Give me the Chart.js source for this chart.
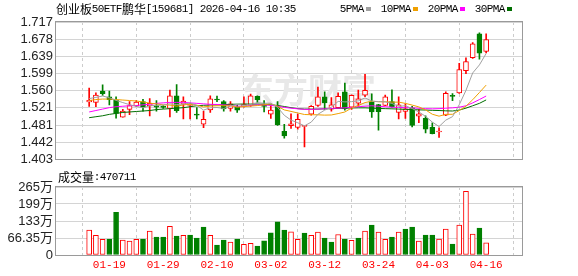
<!DOCTYPE html>
<html lang="zh">
<head>
<meta charset="UTF-8">
<title>创业板50ETF鹏华 K线</title>
<script src="https://cdn.jsdelivr.net/npm/chart.js"></script>
<style>
  body { margin: 0; background: #fff; }
  #wrap { position: relative; width: 578px; height: 276px; }
  .box { position: absolute; left: 0; width: 578px; }
</style>
</head>
<body>
<div id="wrap">
  <div class="box" style="top:0;height:170px"><canvas id="kChart"></canvas></div>
  <div class="box" style="top:170px;height:106px"><canvas id="volChart"></canvas></div>
</div>
<script>
// 交易日
const dates = ['01-14','01-15','01-16','01-19','01-20','01-21','01-22','01-23','01-26','01-27',
  '01-28','01-29','01-30','02-02','02-03','02-04','02-05','02-06','02-09','02-10',
  '02-11','02-12','02-13','02-24','02-25','02-26','02-27','03-02','03-03','03-04',
  '03-05','03-06','03-09','03-10','03-11','03-12','03-13','03-16','03-17','03-18',
  '03-19','03-20','03-23','03-24','03-25','03-26','03-27','03-30','03-31','04-01',
  '04-02','04-03','04-07','04-08','04-09','04-10','04-13','04-14','04-15','04-16'];
const tickIdx = [3, 11, 19, 27, 35, 43, 51, 59];

const open = [1.534,1.533,1.559,1.546,1.538,1.499,1.517,1.525,1.535,1.525,
  1.526,1.5235,1.519,1.548,1.529,1.526,1.506,1.483,1.5155,1.5395,
  1.535,1.519,1.523,1.524,1.526,1.547,1.530,1.506,1.524,1.467,
  1.4795,1.476,1.478,1.506,1.526,1.546,1.5177,1.521,1.557,1.522,
  1.531,1.5497,1.533,1.528,1.526,1.535,1.510,1.5126,1.5205,1.5013,
  1.4965,1.4762,1.4653,1.5035,1.5482,1.5548,1.6057,1.6356,1.6897,1.6497];
const high = [1.566,1.555,1.573,1.559,1.546,1.517,1.535,1.537,1.540,1.542,
  1.537,1.526,1.561,1.574,1.546,1.531,1.521,1.513,1.548,1.5476,
  1.537,1.535,1.528,1.546,1.552,1.548,1.537,1.525,1.535,1.483,
  1.507,1.506,1.4805,1.526,1.568,1.557,1.544,1.555,1.577,1.5504,
  1.561,1.597,1.5526,1.5286,1.5497,1.562,1.546,1.5297,1.5242,1.5166,
  1.5024,1.486,1.4746,1.557,1.5534,1.6225,1.6349,1.6698,1.6923,1.6901];
const low = [1.524,1.523,1.549,1.527,1.497,1.499,1.505,1.523,1.513,1.502,
  1.513,1.519,1.500,1.510,1.495,1.495,1.495,1.475,1.510,1.5345,
  1.513,1.513,1.510,1.522,1.524,1.533,1.511,1.4965,1.4805,1.451,
  1.4734,1.472,1.431,1.5035,1.524,1.517,1.513,1.520,1.515,1.517,
  1.524,1.546,1.4986,1.4696,1.5257,1.522,1.495,1.4965,1.4768,1.4864,
  1.463,1.461,1.4528,1.5024,1.5367,1.5537,1.5986,1.6334,1.6318,1.6465];
const close = [1.538,1.550,1.553,1.539,1.508,1.513,1.526,1.534,1.522,1.531,
  1.522,1.5215,1.548,1.514,1.536,1.529,1.504,1.494,1.541,1.5385,
  1.518,1.530,1.515,1.529,1.548,1.5395,1.524,1.5155,1.482,1.4565,
  1.484,1.494,1.4805,1.524,1.546,1.532,1.5275,1.547,1.518,1.549,
  1.541,1.5607,1.511,1.512,1.546,1.523,1.5275,1.5183,1.4805,1.5068,
  1.4718,1.4616,1.4674,1.5537,1.5467,1.6083,1.6262,1.6672,1.6458,1.677];

const ma5 = [1.5417,1.5445,1.5476,1.5438,1.5376,1.5326,1.5278,1.524,1.5206,1.5252,
  1.5262,1.527,1.5298,1.5282,1.5292,1.5314,1.5262,1.5154,1.5208,1.5213,
  1.5191,1.5243,1.5285,1.5261,1.528,1.5323,1.5311,1.5312,1.5218,1.5035,
  1.4924,1.4864,1.4794,1.4878,1.5057,1.5153,1.522,1.5353,1.5341,1.5347,
  1.5365,1.5432,1.536,1.5348,1.5342,1.5306,1.5239,1.5253,1.519,1.5112,
  1.501,1.4879,1.4777,1.4924,1.5004,1.5276,1.5605,1.6004,1.6188,1.6449];
const ma10 = [1.5373,1.5395,1.5406,1.5406,1.5395,1.5384,1.5373,1.5362,1.534,1.5314,
  1.5294,1.5274,1.5269,1.5244,1.5272,1.5288,1.5266,1.5226,1.5245,1.5253,
  1.5253,1.5253,1.522,1.5235,1.5247,1.5257,1.5277,1.5299,1.524,1.5158,
  1.5124,1.5088,1.5053,1.5048,1.5046,1.5039,1.5042,1.5074,1.511,1.5202,
  1.5259,1.5326,1.5357,1.5345,1.5345,1.5336,1.5336,1.5307,1.5269,1.5227,
  1.5158,1.5059,1.5015,1.5057,1.5058,1.5143,1.5242,1.5391,1.5556,1.5726];
const ma20 = [1.5111,1.5144,1.5177,1.521,1.5231,1.5242,1.5253,1.5257,1.5275,1.5286,
  1.5308,1.5319,1.533,1.533,1.533,1.5319,1.5308,1.5297,1.5286,1.5283,
  1.5273,1.5263,1.5244,1.5239,1.5259,1.5273,1.5272,1.5262,1.5242,1.5216,
  1.5198,1.5183,1.517,1.517,1.5177,1.5183,1.5192,1.5198,1.5205,1.5214,
  1.5231,1.5242,1.5253,1.5242,1.5231,1.522,1.5214,1.5209,1.5205,1.5194,
  1.5187,1.5183,1.5187,1.5198,1.5205,1.522,1.5253,1.5318,1.5395,1.5476];
const ma30 = [1.498,1.5002,1.5024,1.5056,1.5078,1.51,1.5111,1.5122,1.5133,1.5144,
  1.5166,1.5177,1.5187,1.5198,1.5209,1.5231,1.5253,1.5264,1.527,1.5275,
  1.5279,1.5286,1.529,1.5292,1.5292,1.5292,1.5286,1.5275,1.526,1.5236,
  1.5209,1.5187,1.5177,1.5177,1.5177,1.5183,1.5187,1.5192,1.5198,1.5203,
  1.5205,1.5205,1.5198,1.5192,1.5187,1.5183,1.5177,1.5172,1.5166,1.5159,
  1.5155,1.5148,1.5144,1.5137,1.5133,1.5155,1.5198,1.5253,1.5308,1.5386];

// 成交量 (万)
const volume = [97,76.5,61,62,167,58,54,61,62,93,
  70,70,111.5,74,76.5,78,66,109,76.5,39,
  58,50.5,62,41.5,45.4,35,55.7,86.8,129.5,97,
  90,61,85.5,76.5,89,66,50.5,80,62,57,
  66,93,116.6,89,61,70,89,101,109,54,
  78,78,62,101,43,116.6,248.7,81.6,105,47.0711];
const volUp = [1,1,1,0,0,1,1,1,0,1, 0,0,1,0,1,0,0,0,1,0,
  0,1,0,1,1,0,0,0,0,0, 1,1,0,1,1,0,0,1,0,1,
  0,1,0,1,1,0,1,0,0,1, 0,0,1,1,0,1,1,1,0,1];

const priceTicks = [1.403, 1.442, 1.481, 1.521, 1.560, 1.599, 1.639, 1.678, 1.717];
const volTicks = [0, 66.35, 132.7, 199.05, 265.4];
const volTickLabels = ['0', '66.35万', '133万', '199万', '265万'];

const title = '创业板50ETF鹏华[159681] 2026-04-16 10:35';
const maNames = ['5PMA', '10PMA', '20PMA', '30PMA'];

const RED = '#ff0000', GREEN = '#008000';
const maColors = ['#a0a0a0', '#f0a000', '#ff00ff', '#006e00'];

// 宋体风格的等宽文字: 半角6px, 全角12px
function drawMixed(ctx, text, x, y, color) {
  ctx.save();
  ctx.fillStyle = color;
  ctx.textBaseline = 'middle';
  ctx.textAlign = 'left';
  for (const ch of text) {
    const wide = ch.charCodeAt(0) > 0x2e80;
    ctx.font = wide ? '12px "Noto Sans CJK SC"' : '11px "Liberation Mono"';
    ctx.fillText(ch, wide ? x : x - 0.3, y);
    x += wide ? 12 : 6;
  }
  ctx.restore();
  return x;
}

function drawBox(chart) {
  const a = chart.chartArea, ctx = chart.ctx;
  ctx.save();
  ctx.strokeStyle = '#9a9a9a';
  ctx.lineWidth = 1;
  ctx.strokeRect(Math.round(a.left) - 0.5, Math.round(a.top) - 0.5,
    Math.round(a.right - a.left) + 1, Math.round(a.bottom - a.top) + 1);
  ctx.restore();
}

const idx = dates.map((d, i) => i);
const up = idx.map(i => close[i] >= open[i]);

const xBase = {
  type: 'linear', min: -0.6, max: 60,
  afterBuildTicks: s => { s.ticks = tickIdx.map(v => ({ value: v })); },
  grid: { color: '#cccccc', drawTicks: false },
  border: { display: false, dash: [3, 3] }
};

const kPlugin = {
  id: 'kDeco',
  beforeDatasetsDraw(chart) {
    const ctx = chart.ctx;
    ctx.save();
    ctx.fillStyle = '#e8e8e8';
    ctx.font = 'bold 34px "Noto Sans CJK SC"';
    ctx.textBaseline = 'middle';
    ctx.fillText('东方财富', 240, 90);
    ctx.restore();
  },
  afterDraw(chart) {
    const ctx = chart.ctx;
    drawBox(chart);
    drawMixed(ctx, title, 56, 9.5, '#000');
    let x = 340;
    maNames.forEach((n, k) => {
      x = drawMixed(ctx, n, x, 9.5, '#000');
      ctx.fillStyle = maColors[k];
      ctx.fillRect(x + 2, 7, 5, 4);
      x += 17;
    });
  }
};

const maSets = [ma5, ma10, ma20, ma30].map((arr, k) => ({
  type: 'line',
  label: maNames[k],
  data: arr.map((v, i) => ({ x: i, y: v })),
  borderColor: maColors[k],
  borderWidth: 1,
  pointRadius: 0,
  tension: 0,
  order: 0
}));

new Chart(document.getElementById('kChart'), {
  type: 'bar',
  data: {
    datasets: [
      ...maSets,
      {
        label: 'body',
        data: idx.map(i => ({ x: i, y: [open[i], close[i]] })),
        backgroundColor: idx.map(i => up[i] ? '#ffffff' : GREEN),
        borderColor: idx.map(i => up[i] ? RED : GREEN),
        borderWidth: 1,
        borderSkipped: false,
        minBarLength: 1,
        barThickness: 5,
        grouped: false,
        order: 1
      },
      {
        label: 'wick',
        data: idx.map(i => ({ x: i, y: [low[i], high[i]] })),
        backgroundColor: idx.map(i => up[i] ? RED : GREEN),
        borderWidth: 0,
        barThickness: 1,
        grouped: false,
        order: 2
      }
    ]
  },
  options: {
    responsive: true,
    maintainAspectRatio: false,
    animation: false,
    layout: { padding: { top: 22, right: 56, bottom: 5, left: 0 } },
    plugins: { legend: { display: false }, tooltip: { enabled: false } },
    scales: {
      x: Object.assign({}, xBase, {
        ticks: { display: false },
        afterFit: s => { s.height = 0; }
      }),
      y: {
        min: 1.403, max: 1.717,
        afterFit: s => { s.width = 56; },
        afterBuildTicks: s => { s.ticks = priceTicks.map(v => ({ value: v })); },
        ticks: {
          autoSkip: false,
          padding: 3,
          color: '#222',
          font: { family: "'Liberation Sans', Arial", size: 13 },
          callback: v => v.toFixed(3)
        },
        grid: { color: '#d4d4d4', drawTicks: false },
        border: { display: false }
      }
    }
  },
  plugins: [kPlugin]
});

const volPlugin = {
  id: 'volDeco',
  afterDraw(chart) {
    drawBox(chart);
    drawMixed(chart.ctx, '成交量:' + Math.round(volume[volume.length - 1] * 10000), 58, 7.5, '#000');
  }
};

new Chart(document.getElementById('volChart'), {
  type: 'bar',
  data: {
    datasets: [{
      label: '成交量',
      data: idx.map(i => ({ x: i, y: volume[i] })),
      backgroundColor: idx.map(i => volUp[i] ? '#ffffff' : GREEN),
      borderColor: idx.map(i => volUp[i] ? RED : GREEN),
      borderWidth: 1,
      borderSkipped: false,
      barThickness: 5
    }]
  },
  options: {
    responsive: true,
    maintainAspectRatio: false,
    animation: false,
    layout: { padding: { top: 17, right: 56, bottom: 0, left: 0 } },
    plugins: { legend: { display: false }, tooltip: { enabled: false } },
    scales: {
      x: Object.assign({}, xBase, {
        afterFit: s => { s.height = 21; },
        ticks: {
          autoSkip: false,
          maxRotation: 0,
          padding: 3,
          color: RED,
          font: { family: "'Liberation Mono'", size: 11 },
          callback: v => dates[v]
        }
      }),
      y: {
        min: 0, max: 265.4,
        afterFit: s => { s.width = 56; },
        afterBuildTicks: s => { s.ticks = volTicks.map(v => ({ value: v })); },
        ticks: {
          autoSkip: false,
          padding: 3,
          color: '#222',
          font: { family: "'Liberation Sans', 'Noto Sans CJK SC'", size: 13 },
          callback: (v, i) => volTickLabels[i]
        },
        grid: { color: '#d4d4d4', drawTicks: false },
        border: { display: false }
      }
    }
  },
  plugins: [volPlugin]
});
</script>
</body>
</html>
